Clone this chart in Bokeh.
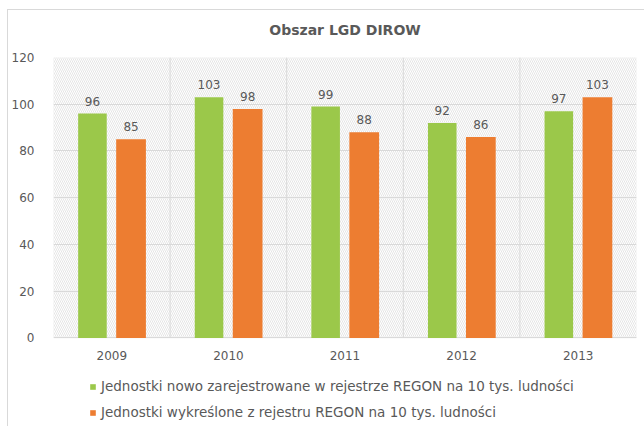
from bokeh.plotting import figure
from bokeh.models import (ColumnDataSource, Range1d, FactorRange, BoxAnnotation,
                          FixedTicker, Legend, LegendItem, LabelSet)
from bokeh.core.properties import value
from bokeh.transform import dodge
from bokeh.embed import file_html
from bokeh.resources import INLINE

years = ["2009", "2010", "2011", "2012", "2013"]
registered = [96, 103, 99, 92, 97]
removed = [85, 98, 88, 86, 103]
y_ticks = [0, 20, 40, 60, 80, 100, 120]
series_names = [
    "Jednostki nowo zarejestrowane w rejestrze REGON na 10 tys. ludności",
    "Jednostki wykreślone z rejestru REGON na 10 tys. ludności",
]
title_text = "Obszar LGD DIROW"

GREEN = "#9BC84A"
ORANGE = "#ED7D31"
GREY_TXT = "#595959"
GRID = "#d9d9d9"
FONT = "DejaVu Sans"

src = ColumnDataSource(dict(
    year=years,
    reg=registered,
    rem=removed,
    reg_lbl=[str(v) for v in registered],
    rem_lbl=[str(v) for v in removed],
    zero=[0] * len(years),
))
sep = ColumnDataSource(dict(year=years[1:], y0=[y_ticks[0]] * (len(years) - 1),
                            y1=[y_ticks[-1]] * (len(years) - 1)))

# the frame reaches the bottom of the picture so that the legend can sit inside it;
# the value axis runs below zero only to make room for the category labels and legend
p = figure(width=644, height=426, x_range=FactorRange(*years, range_padding=0),
           y_range=Range1d(-37.9, y_ticks[-1]), output_backend="svg", toolbar_location=None,
           min_border_left=53, min_border_right=8, min_border_top=56, min_border_bottom=0,
           title=title_text)

p.title.align = "center"
p.title.text_font = FONT
p.title.text_font_size = "14px"
p.title.text_font_style = "bold"
p.title.text_color = GREY_TXT
p.title.standoff = 39

p.outline_line_color = None
p.background_fill_color = "white"
p.border_fill_alpha = 0
# thin chart-area border (left and top edges) drawn behind the transparent canvas border
p.styles = {
    "background": ("linear-gradient(#d9d9d9, #d9d9d9) 7px 9px / 1px 100% no-repeat, "
                   "linear-gradient(#d9d9d9, #d9d9d9) 7px 9px / 100% 1px no-repeat, white"),
}

bg = BoxAnnotation(bottom=0, fill_color="white", fill_alpha=1, line_color=GRID, line_width=1,
                   hatch_pattern="\\", hatch_color="#dadada", hatch_scale=4,
                   hatch_weight=0.7, level="image")
p.add_layout(bg)

p.segment(x0=dodge("year", -0.5, range=p.x_range), x1=dodge("year", -0.5, range=p.x_range),
          y0="y0", y1="y1", source=sep, line_color=GRID, line_width=1, level="underlay")

r1 = p.vbar(x=dodge("year", -0.166, range=p.x_range), top="reg", width=0.245, source=src,
            fill_color=GREEN, line_color=None)
r2 = p.vbar(x=dodge("year", 0.165, range=p.x_range), top="rem", width=0.255, source=src,
            fill_color=ORANGE, line_color=None)

for col, lbl, off in (("reg", "reg_lbl", -0.166), ("rem", "rem_lbl", 0.165)):
    p.add_layout(LabelSet(x=dodge("year", off, range=p.x_range), y=col, text=lbl, source=src,
                          text_align="center", text_baseline="bottom", y_offset=8,
                          text_font=value(FONT), text_font_size="12px", text_color=GREY_TXT))

# category labels under the zero line
p.add_layout(LabelSet(x="year", y="zero", text="year", source=src, y_offset=-18,
                      text_align="center", text_baseline="middle",
                      text_font=value(FONT), text_font_size="12px", text_color=GREY_TXT))

p.xgrid.grid_line_color = None
p.xaxis.visible = False
p.ygrid.grid_line_color = GRID
p.ygrid.ticker = FixedTicker(ticks=y_ticks)

p.yaxis.ticker = FixedTicker(ticks=y_ticks)
p.yaxis.axis_line_color = None
p.yaxis.major_tick_line_color = None
p.yaxis.minor_tick_line_color = None
p.yaxis.major_label_standoff = 13
p.yaxis.major_label_text_font = FONT
p.yaxis.major_label_text_font_size = "12px"
p.yaxis.major_label_text_color = GREY_TXT

legend = Legend(items=[LegendItem(label=series_names[0], renderers=[r1]),
                       LegendItem(label=series_names[1], renderers=[r2])],
                location=(36, 6), orientation="vertical",
                glyph_width=7, glyph_height=7, label_height=7, spacing=10,
                label_standoff=5, padding=0, margin=0,
                border_line_color=None, background_fill_alpha=0,
                label_text_font=FONT, label_text_font_size="13.5px",
                label_text_color=GREY_TXT)
p.add_layout(legend, "center")

open("out.html", "w").write(file_html(p, INLINE))
